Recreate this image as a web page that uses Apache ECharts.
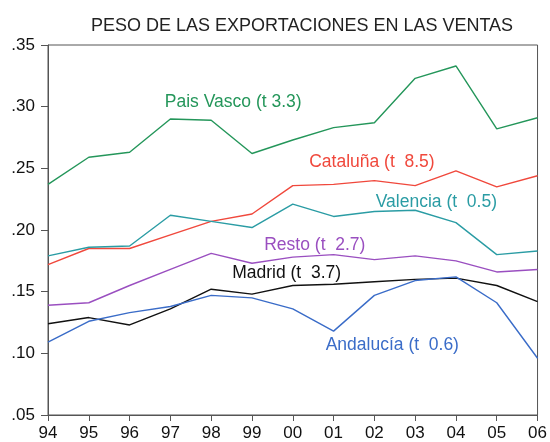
<!DOCTYPE html>
<html>
<head>
<meta charset="utf-8">
<script src="https://cdn.jsdelivr.net/npm/echarts@6/dist/echarts.min.js"></script>
<style>
  html, body { margin: 0; padding: 0; background: #fff; }
  #chart { width: 550px; height: 442px; }
</style>
</head>
<body>
<div id="chart"></div>
<script>
// años 1994..2006
const years = [1994, 1995, 1996, 1997, 1998, 1999, 2000, 2001, 2002, 2003, 2004, 2005, 2006]

const paisVasco = [0.237, 0.259, 0.263, 0.290, 0.289, 0.262, 0.273, 0.283, 0.287, 0.323, 0.333, 0.282, 0.291]
const cataluna = [0.172, 0.185, 0.185, 0.196, 0.207, 0.213, 0.236, 0.237, 0.240, 0.236, 0.248, 0.235, 0.244]
const valencia = [0.179, 0.186, 0.187, 0.212, 0.207, 0.202, 0.221, 0.211, 0.215, 0.216, 0.206, 0.180, 0.183]
const resto = [0.139, 0.141, 0.155, 0.168, 0.181, 0.173, 0.178, 0.180, 0.176, 0.179, 0.175, 0.166, 0.168]
const madrid = [0.124, 0.129, 0.123, 0.136, 0.152, 0.148, 0.155, 0.156, 0.158, 0.160, 0.161, 0.155, 0.142]
const andalucia = [0.109, 0.126, 0.133, 0.138, 0.147, 0.145, 0.136, 0.118, 0.147, 0.159, 0.162, 0.141, 0.096]

const yTicks = ['.05', '.10', '.15', '.20', '.25', '.30', '.35']

const FONT = '"Liberation Sans", Arial, sans-serif'

function series(name, values, color, labelText, labelAt) {
  return {
    name,
    type: 'line',
    symbol: 'none',
    animation: false,
    lineStyle: { color, width: 1.4 },
    data: years.map((y, i) => [y, values[i]]),
    markPoint: {
      symbol: 'circle',
      symbolSize: 0,
      silent: true,
      label: {
        show: true,
        position: 'inside',
        formatter: labelText,
        color,
        fontFamily: FONT,
        fontSize: 17.5
      },
      data: [{ coord: labelAt }]
    }
  }
}

const chart = echarts.init(document.getElementById('chart'))
chart.setOption({
  backgroundColor: '#fff',
  animation: false,
  title: {
    text: 'PESO DE LAS EXPORTACIONES EN LAS VENTAS',
    left: 86,
    top: 12,
    textStyle: { fontFamily: FONT, fontSize: 18, fontWeight: 'normal', color: '#222' }
  },
  grid: {
    left: 48, right: 11, top: 45, bottom: 25,
    show: true, borderColor: '#555', borderWidth: 1
  },
  xAxis: {
    type: 'value',
    min: 1994, max: 2006, interval: 1,
    splitLine: { show: false },
    axisLine: { lineStyle: { color: '#555' } },
    axisTick: { show: true, length: 6, lineStyle: { color: '#555' } },
    axisLabel: {
      color: '#111', fontFamily: FONT, fontSize: 17, margin: 10,
      formatter: v => String(v).slice(2)
    }
  },
  yAxis: {
    type: 'value',
    min: 0.05, max: 0.35, interval: 0.05,
    splitLine: { show: false },
    axisLine: { show: true, lineStyle: { color: '#555' } },
    axisTick: { show: true, length: 7, lineStyle: { color: '#555' } },
    axisLabel: {
      color: '#111', fontFamily: FONT, fontSize: 17, margin: 13,
      formatter: v => yTicks[Math.round((v - 0.05) / 0.05)]
    }
  },
  series: [
    series('Pais Vasco', paisVasco, '#24965a', 'Pais Vasco (t 3.3)', [1998.54, 0.304]),
    series('Cataluña', cataluna, '#f0483c', 'Cataluña (t  8.5)', [2001.94, 0.2546]),
    series('Valencia', valencia, '#2a9ca4', 'Valencia (t  0.5)', [2003.52, 0.2229]),
    series('Resto', resto, '#9a4fc0', 'Resto (t  2.7)', [2000.54, 0.188]),
    series('Madrid', madrid, '#111111', 'Madrid (t  3.7)', [1999.85, 0.1646]),
    series('Andalucía', andalucia, '#3a6cc8', 'Andalucía (t  0.6)', [2002.44, 0.1068])
  ]
})
</script>
</body>
</html>
